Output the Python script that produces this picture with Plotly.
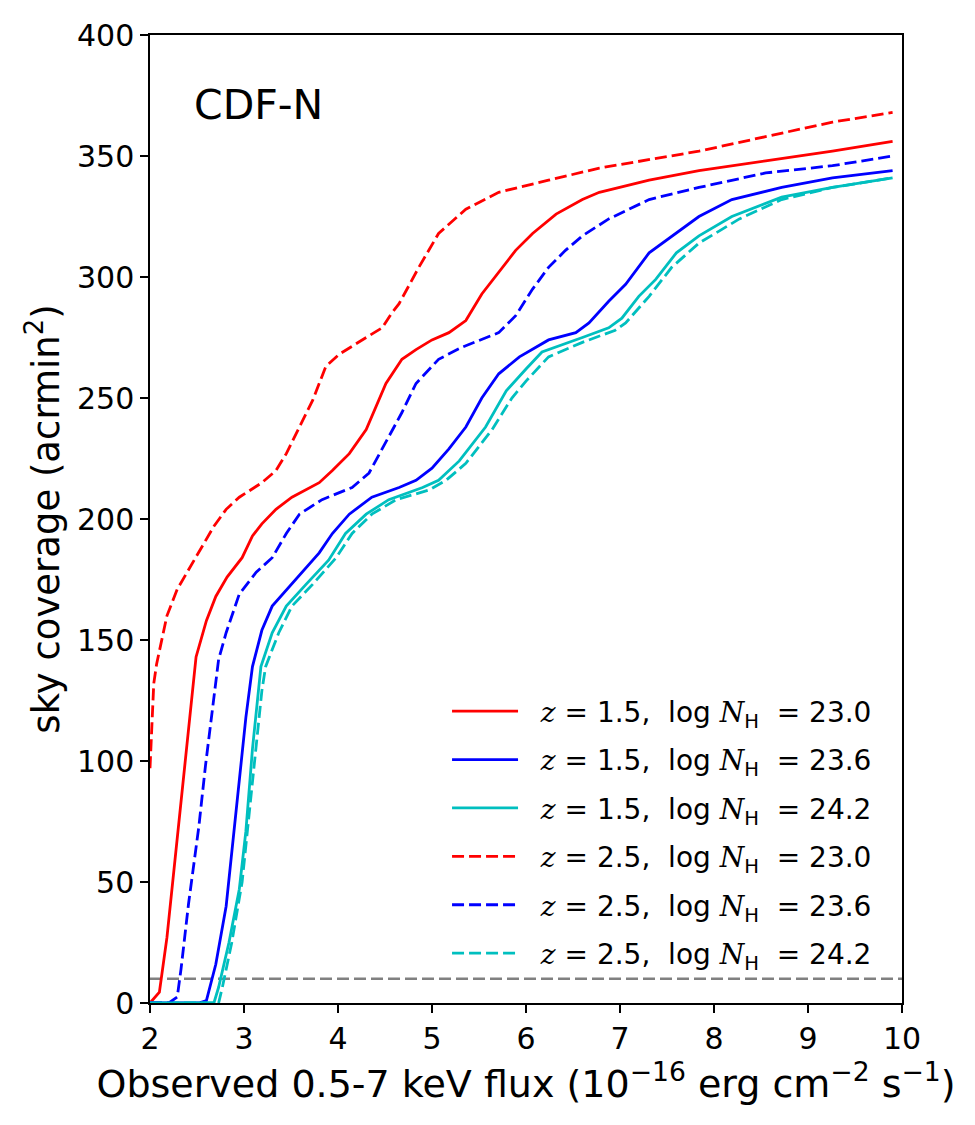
import plotly.graph_objects as go

# ---- data ----
x_z15_230 = [2.0, 2.08, 2.1, 2.18, 2.26, 2.34, 2.49, 2.6, 2.70, 2.82, 2.98, 3.09, 3.19, 3.34, 3.51, 3.80, 3.94, 4.12, 4.30, 4.51, 4.68, 4.83, 5.0, 5.18, 5.36, 5.53, 5.71, 5.89, 6.07, 6.32, 6.60, 6.78, 7.31, 7.84, 8.55, 9.26, 9.9]
y_z15_230 = [0, 3.5, 4.5, 27, 57, 88, 143, 158, 168, 176, 184, 193, 198, 204, 209, 215, 220, 227, 237, 256, 266, 270, 274, 277, 282, 293, 302, 311, 318, 326, 332, 335, 340, 344, 348, 352, 356]

x_z15_236 = [2.0, 2.52, 2.6, 2.70, 2.81, 2.95, 3.02, 3.09, 3.19, 3.30, 3.48, 3.66, 3.80, 3.94, 4.12, 4.36, 4.65, 4.83, 5.0, 5.18, 5.36, 5.53, 5.71, 5.93, 6.24, 6.53, 6.67, 6.88, 7.06, 7.31, 7.49, 7.84, 8.19, 8.72, 9.26, 9.9]
y_z15_236 = [0, 0, 1, 16, 40, 91, 118, 139, 154, 164, 172, 180, 186, 194, 202, 209, 213, 216, 221, 229, 238, 250, 260, 267, 274, 277, 281, 290, 297, 310, 315, 325, 332, 337, 341, 344]

x_z15_242 = [2.0, 2.68, 2.73, 2.84, 2.95, 3.02, 3.09, 3.14, 3.18, 3.30, 3.45, 3.66, 3.90, 4.08, 4.30, 4.54, 4.90, 5.07, 5.29, 5.57, 5.79, 6.0, 6.17, 6.60, 6.88, 7.02, 7.20, 7.38, 7.6, 7.84, 8.19, 8.72, 9.26, 9.9]
y_z15_242 = [0, 0, 6.5, 25, 47, 71, 105, 125, 139, 153, 164, 173, 183, 194, 202, 208, 213, 216, 224, 238, 253, 262, 269, 275, 279, 283, 292, 299, 310, 317, 325, 333, 337, 341]

x_z25_230 = [2.0, 2.04, 2.07, 2.18, 2.29, 2.41, 2.52, 2.68, 2.81, 2.95, 3.19, 3.34, 3.45, 3.59, 3.73, 3.87, 4.01, 4.30, 4.47, 4.57, 4.65, 4.86, 5.07, 5.36, 5.71, 6.24, 6.78, 7.84, 8.90, 9.26, 9.9]
y_z25_230 = [97, 132, 140, 160, 171, 179, 186, 197, 204, 209, 215, 220, 227, 238, 249, 263, 268, 275, 279, 285, 289, 304, 318, 328, 335, 340, 345, 352, 361, 364, 368]

x_z25_236 = [2.0, 2.2, 2.29, 2.33, 2.41, 2.52, 2.59, 2.66, 2.73, 2.81, 2.95, 3.13, 3.30, 3.45, 3.59, 3.83, 4.15, 4.33, 4.47, 4.68, 4.83, 5.07, 5.32, 5.71, 5.89, 6.07, 6.24, 6.42, 6.60, 6.88, 7.31, 7.84, 8.55, 9.26, 9.9]
y_z25_236 = [0, 0, 2.5, 14, 41, 73, 98, 121, 142, 153, 169, 178, 184, 194, 202, 208, 213, 219, 229, 244, 256, 266, 271, 277, 284, 295, 304, 311, 317, 324, 332, 337, 343, 346, 350]

x_z25_242 = [2.0, 2.73, 2.77, 2.87, 2.98, 3.05, 3.13, 3.19, 3.23, 3.37, 3.51, 3.73, 3.98, 4.15, 4.36, 4.62, 4.97, 5.15, 5.36, 5.64, 5.85, 6.0, 6.24, 6.60, 6.95, 7.06, 7.31, 7.55, 7.84, 8.27, 8.72, 9.26, 9.9]
y_z25_242 = [0, 0, 6.5, 25, 50, 77, 105, 129, 139, 153, 164, 173, 184, 194, 202, 208, 212, 216, 223, 237, 250, 257, 267, 273, 278, 281, 292, 304, 314, 324, 332, 337, 341]

threshold_x = [2, 10]
threshold_y = [10, 10]

x_ticks = [2, 3, 4, 5, 6, 7, 8, 9, 10]
y_ticks = [0, 50, 100, 150, 200, 250, 300, 350, 400]

redshifts = ["1.5", "1.5", "1.5", "2.5", "2.5", "2.5"]
log_nh = ["23.0", "23.6", "24.2", "23.0", "23.6", "24.2"]

SERIF_I = "<span style=\"font-family:'DejaVu Serif'\"><i>{}</i></span>"


def make_label(z, nh):
    return ("&nbsp;&nbsp;" + SERIF_I.format("z") + "&nbsp;=&nbsp;" + z
            + ",&nbsp;&nbsp;log&nbsp;" + SERIF_I.format("N")
            + "<sub>H</sub>&nbsp;&nbsp;=&nbsp;" + nh)


labels = [make_label(z, n) for z, n in zip(redshifts, log_nh)]

RED, BLUE, CYAN = "#ff0000", "#0000ff", "#00bfbf"
DASH = "12px,5px"
FONT = "DejaVu Sans"

series = [
    (x_z15_230, y_z15_230, RED, "solid"),
    (x_z15_236, y_z15_236, BLUE, "solid"),
    (x_z15_242, y_z15_242, CYAN, "solid"),
    (x_z25_230, y_z25_230, RED, DASH),
    (x_z25_236, y_z25_236, BLUE, DASH),
    (x_z25_242, y_z25_242, CYAN, DASH),
]

fig = go.Figure()
fig.add_trace(go.Scatter(x=threshold_x, y=threshold_y, mode="lines",
                         line=dict(color="#808080", width=2.5, dash=DASH),
                         showlegend=False, hoverinfo="skip"))
for i, ((xs, ys, col, dash), lab) in enumerate(zip(series, labels)):
    fig.add_trace(go.Scatter(x=xs, y=ys, mode="lines", name=lab,
                             legendgroup=f"g{i}",
                             line=dict(color=col, width=2.8, dash=dash)))

fig.add_annotation(x=2.45, y=371, xref="x", yref="y", text="CDF-N",
                   showarrow=False, xanchor="left", yanchor="middle",
                   font=dict(family=FONT, size=41, color="black"))

axis_common = dict(showline=True, mirror=True, linecolor="black", linewidth=1.5,
                   ticks="outside", ticklen=8, tickwidth=1.5, tickcolor="black",
                   showgrid=False, zeroline=False,
                   tickfont=dict(family=FONT, size=30, color="black"))

fig.update_layout(
    width=975, height=1125, autosize=False,
    margin=dict(l=150, r=73, t=35, b=122),
    paper_bgcolor="white", plot_bgcolor="white",
    font=dict(family=FONT, color="black"),
    xaxis=dict(range=[2, 10], tickvals=x_ticks,
               title=dict(text="Observed 0.5-7 keV flux (10<sup>−16</sup> erg cm<sup>−2</sup> s<sup>−1</sup>)",
                          font=dict(family=FONT, size=38), standoff=15),
               **axis_common),
    yaxis=dict(range=[0, 400], tickvals=y_ticks,
               title=dict(text="sky coverage (acrmin<sup>2</sup>)",
                          font=dict(family=FONT, size=37), standoff=6),
               **axis_common),
    legend=dict(x=0.395, y=0.327, xanchor="left", yanchor="top",
                bgcolor="rgba(255,255,255,0)", borderwidth=0,
                font=dict(family=FONT, size=28, color="black"),
                traceorder="grouped", tracegroupgap=9, itemwidth=66),
)

fig.write_html("out.html")
